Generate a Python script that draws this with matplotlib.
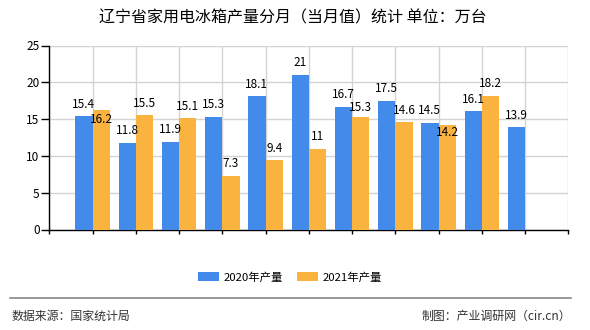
import numpy as np
import matplotlib.pyplot as plt
from matplotlib.lines import Line2D

plt.rcParams['font.family'] = ['Noto Sans CJK SC', 'DejaVu Sans']

months = ['1-2月', '3月', '4月', '5月', '6月', '7月', '8月', '9月', '10月', '11月', '12月']
prod_2020 = [15.4, 11.8, 11.9, 15.3, 18.1, 21, 16.7, 17.5, 14.5, 16.1, 13.9]
prod_2021 = [16.2, 15.5, 15.1, 7.3, 9.4, 11, 15.3, 14.6, 14.2, 18.2]

blue = '#428bea'
orange = '#fbb33f'

# label nudges (px, + is down) where the labels would collide
nudge_2020 = {}
nudge_2021 = {0: 21, 6: 3, 8: 20}

W, H = 590, 330
fig = plt.figure(figsize=(W/100, H/100), dpi=100)
ax = fig.add_axes([49.3/W, 1-229.5/H, (568.3-49.3)/W, (229.5-45.5)/H])

x1 = np.arange(1, len(prod_2020)+1)
x2 = np.arange(1, len(prod_2021)+1)
w = 0.4
ax.bar(x1 - w/2, prod_2020, width=w, color=blue, zorder=3, label='2020年产量')
ax.bar(x2 + w/2, prod_2021, width=w, color=orange, zorder=3, label='2021年产量')

px = 72/100.0
for i, (xi, v) in enumerate(zip(x1, prod_2020)):
    dy = -12 + nudge_2020.get(i, 0)
    ax.annotate('%g' % v, (xi - w/2, v), xytext=(0, -dy*px), textcoords='offset points',
                ha='center', va='center', fontsize=8.5, zorder=5)
for i, (xi, v) in enumerate(zip(x2, prod_2021)):
    dy = -12 + nudge_2021.get(i, 0)
    ax.annotate('%g' % v, (xi + w/2, v), xytext=(0, -dy*px), textcoords='offset points',
                ha='center', va='center', fontsize=8.5, zorder=5)

ax.set_xlim(0, 12)
ax.set_ylim(0, 25)
ax.set_yticks(range(0, 26, 5))
ax.set_xticks(range(0, 13))
ax.set_xticklabels([''] * 13)
ax.set_xticks(x1, minor=True)
ax.set_xticklabels(months, minor=True)
ax.tick_params(axis='x', which='minor', length=0, labelsize=8.5, pad=5)
ax.tick_params(axis='x', which='major', length=3, width=1)
ax.tick_params(axis='y', labelsize=8.5, length=6, width=1, pad=1)
ax.grid(True, which='major', color='#d3d3d3', linewidth=1, zorder=0)
for s in ['top', 'right']:
    ax.spines[s].set_visible(False)
ax.spines['left'].set_linewidth(1)
ax.spines['bottom'].set_linewidth(1)

fig.text(293/W, 1-18/H, '辽宁省家用电冰箱产量分月（当月值）统计 单位：万台',
         ha='center', va='center', fontsize=11.5)

fig.legend(loc='center', bbox_to_anchor=(290/W, 1-277/H), ncol=2, frameon=False,
           fontsize=8.2, handlelength=1.9, handleheight=0.9, columnspacing=1.2, handletextpad=0.4)

fig.add_artist(Line2D([10/W, 571/W], [1-298/H, 1-298/H], color='#888888', linewidth=1.2))
fig.text(12/W, 1-316/H, '数据来源：国家统计局', ha='left', va='center', fontsize=8.6, color='#333333')
fig.text(571/W, 1-316/H, '制图：产业调研网（cir.cn）', ha='right', va='center', fontsize=8.6, color='#333333')

fig.savefig('out.png', dpi=100)
